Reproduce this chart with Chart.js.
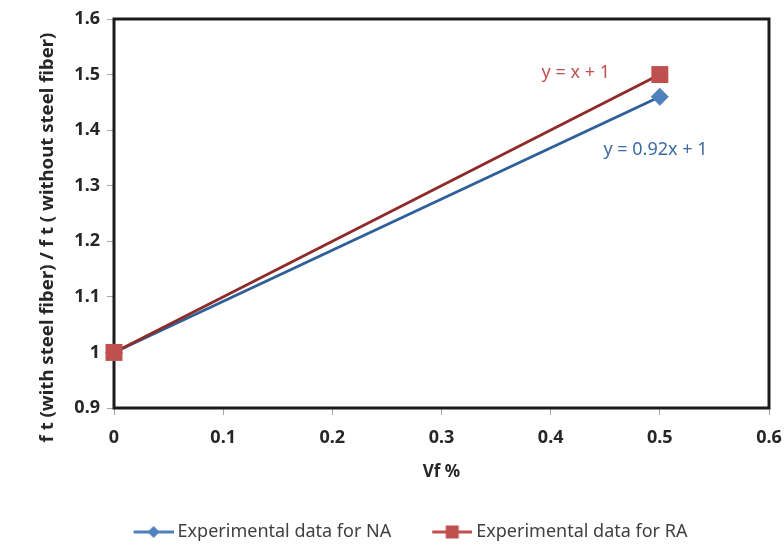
<!DOCTYPE html>
<html>
<head>
<meta charset="utf-8">
<script src="https://cdn.jsdelivr.net/npm/chart.js@4.4.1/dist/chart.umd.min.js"></script>
<style>
  html, body { margin: 0; padding: 0; background: #fff; }
</style>
</head>
<body>
<canvas id="ratio" width="784" height="556"></canvas>
<script>
// values
const vf = [0, 0.5];
const naRatio = [1, 1.46];
const raRatio = [1, 1.5];
const xTicks = [0, 0.1, 0.2, 0.3, 0.4, 0.5, 0.6];
const yTicks = [0.9, 1, 1.1, 1.2, 1.3, 1.4, 1.5, 1.6];
const seriesNames = ['Experimental data for NA', 'Experimental data for RA'];
const trendText = ['y = 0.92x + 1', 'y = x + 1'];
const trendAnchorX = [0.496, 0.423];
const trendAnchorY = [1.364, 1.503];
const yTitle = 'f t (with steel fiber) / f t ( without steel fiber)';

const FONT = '"Noto Sans", sans-serif';
const BLUE = '#4F81BD', RED = '#C0504D';
const BLUE_LINE = '#2F5F98', RED_LINE = '#8E2A27';

// legend icon: short line with the marker in the middle
const BOX_W = 66;
function legendIcon(color, shape) {
  const c = document.createElement('canvas');
  c.width = BOX_W + 10; c.height = 16;
  const g = c.getContext('2d');
  const x0 = c.width - 40, mid = c.width - 20;
  g.strokeStyle = color; g.lineWidth = 3;
  g.beginPath(); g.moveTo(x0, 8); g.lineTo(c.width, 8); g.stroke();
  g.fillStyle = color;
  if (shape === 'rect') {
    g.fillRect(mid - 6.5, 1.5, 13, 13);
  } else {
    g.beginPath();
    g.moveTo(mid, 2); g.lineTo(mid + 6, 8); g.lineTo(mid, 14); g.lineTo(mid - 6, 8);
    g.closePath(); g.fill();
  }
  return c;
}
const icons = [legendIcon(BLUE, 'rectRot'), legendIcon(RED, 'rect')];

const framePlugin = {
  id: 'frame',
  beforeDatasetsDraw(chart) {
    const { ctx, chartArea: a } = chart;
    ctx.save();
    ctx.strokeStyle = '#1c1c1c';
    ctx.lineWidth = 3;
    ctx.strokeRect(a.left, a.top, a.right - a.left, a.bottom - a.top);
    // y axis title, sits a little below the middle of the plot like the original
    ctx.translate(a.left - 66, (a.top + a.bottom) / 2 + 24);
    ctx.rotate(-Math.PI / 2);
    ctx.font = 'bold 18.6px ' + FONT;
    ctx.fillStyle = '#262626';
    ctx.textAlign = 'center';
    ctx.textBaseline = 'middle';
    ctx.fillText(yTitle, 0, 0);
    ctx.restore();
  },
  afterDatasetsDraw(chart) {
    const { ctx, scales } = chart;
    ctx.save();
    ctx.font = '18px ' + FONT;
    ctx.textAlign = 'center';
    ctx.textBaseline = 'middle';
    trendText.forEach((t, i) => {
      ctx.fillStyle = i === 0 ? '#3B6BA5' : RED;
      ctx.fillText(t, scales.x.getPixelForValue(trendAnchorX[i]), scales.y.getPixelForValue(trendAnchorY[i]));
    });
    ctx.restore();
  }
};

const PAD_LEFT = 21;

new Chart(document.getElementById('ratio'), {
  type: 'line',
  data: {
    datasets: [
      {
        label: seriesNames[1],
        data: vf.map((v, i) => ({ x: v, y: raRatio[i] })),
        borderColor: RED_LINE,
        borderWidth: 2.8,
        pointStyle: 'rect',
        pointRadius: 12,
        pointBackgroundColor: RED,
        pointBorderWidth: 0,
        pointHoverRadius: 12,
        clip: false
      },
      {
        label: seriesNames[0],
        data: vf.map((v, i) => ({ x: v, y: naRatio[i] })),
        borderColor: BLUE_LINE,
        borderWidth: 2.8,
        pointStyle: 'rectRot',
        pointRadius: 9,
        pointBackgroundColor: BLUE,
        pointBorderWidth: 0,
        pointHoverRadius: 9,
        clip: false
      }
    ]
  },
  options: {
    responsive: false,
    animation: false,
    layout: { autoPadding: false, padding: { left: PAD_LEFT, right: 15, top: 19, bottom: 5 } },
    scales: {
      x: {
        type: 'linear',
        min: 0, max: 0.6,
        afterBuildTicks: s => { s.ticks = xTicks.map(v => ({ value: v })); },
        afterFit: s => { s.height = 105; s.paddingLeft = 0; s.paddingRight = 0; },
        border: { display: false },
        grid: { drawOnChartArea: false, tickLength: 7, color: '#a6a6a6' },
        ticks: {
          padding: 12,
          color: '#262626',
          font: { family: FONT, size: 18, weight: 'bold' },
          callback: v => String(Number(v.toFixed(1)))
        },
        title: {
          display: true, text: 'Vf %', color: '#262626', padding: 31,
          font: { family: FONT, size: 17, weight: 'bold' }
        }
      },
      y: {
        min: 0.9, max: 1.6,
        afterBuildTicks: s => { s.ticks = yTicks.map(v => ({ value: v })); },
        afterFit: s => { s.width = 114 - PAD_LEFT; s.paddingTop = 0; s.paddingBottom = 0; },
        border: { display: false },
        grid: { drawOnChartArea: false, tickLength: 7, color: '#a6a6a6' },
        ticks: {
          padding: 7,
          color: '#262626',
          font: { family: FONT, size: 18, weight: 'bold' },
          callback: v => String(Number(v.toFixed(1)))
        }
      }
    },
    plugins: {
      tooltip: { enabled: false },
      legend: {
        position: 'bottom',
        labels: {
          usePointStyle: true,
          pointStyleWidth: BOX_W,
          padding: 10,
          color: '#404040',
          font: { family: FONT, size: 18 },
          generateLabels: chart => [1, 0].map((di, k) => ({
            text: chart.data.datasets[di].label,
            pointStyle: icons[k],
            datasetIndex: di,
            hidden: !chart.isDatasetVisible(di),
            fontColor: '#404040',
            lineWidth: 0,
            strokeStyle: 'transparent',
            fillStyle: 'transparent'
          }))
        }
      }
    }
  },
  plugins: [framePlugin]
});
</script>
</body>
</html>
